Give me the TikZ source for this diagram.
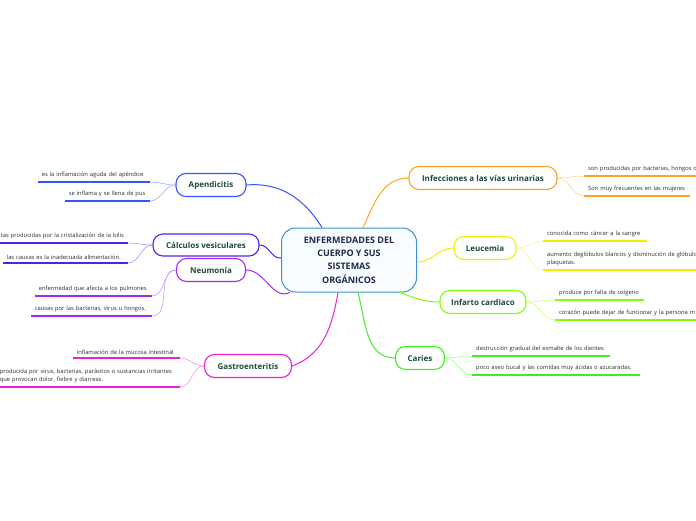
\documentclass[tikz,border=0pt]{standalone}
\usepackage{fontspec}
\setmainfont{Open Sans}
\definecolor{cRoot}{HTML}{3D8FD6}
\definecolor{cApend}{HTML}{3355FF}
\definecolor{cCalc}{HTML}{5022EE}
\definecolor{cNeum}{HTML}{A52AF0}
\definecolor{cGastro}{HTML}{F01ED2}
\definecolor{cInfec}{HTML}{FFA41E}
\definecolor{cLeuc}{HTML}{F0F000}
\definecolor{cInfar}{HTML}{80FF00}
\definecolor{cCaries}{HTML}{3CF01E}
\definecolor{topictext}{HTML}{1B4A3C}
\definecolor{roottext}{HTML}{1B2A4E}
\definecolor{leaftext}{HTML}{2B2B2B}
\tikzset{
  topic/.style={draw=#1, line width=1.1pt, rounded corners=10pt, fill=white,
    minimum height=23pt, inner sep=0pt, font=\fontsize{8}{10}\selectfont\bfseries, text=topictext},
  leaf/.style={inner xsep=4pt, inner ysep=3.5pt, align=left,
    font=\fontsize{5.8}{8.5}\selectfont, text=leaftext},
  link/.style={line width=1pt},
  sublink/.style={line width=.5pt, #1!55}
}
\begin{document}
\begin{tikzpicture}[x=1pt, y=-1pt]
  \useasboundingbox (0,0) rectangle (696,520);

  % centre
  \node[draw=cRoot, line width=1pt, rounded corners=14pt, fill=cRoot!3, minimum width=135pt,
    minimum height=64pt, align=center, text=roottext, font=\fontsize{9}{13.3}\selectfont\bfseries]
    (root) at (349,260) {ENFERMEDADES DEL\\CUERPO Y SUS\\SISTEMAS\\ORGÁNICOS};

  % topics
  \node[topic=cApend, minimum width=70pt] (apend) at (211,185) {Apendicitis};
  \node[topic=cCalc, minimum width=106pt, minimum height=22pt] (calc) at (206,245) {Cálculos vesiculares};
  \node[topic=cNeum, minimum width=69pt] (neum) at (211,270) {Neumonía};
  \node[topic=cGastro, minimum width=87pt] (gastro) at (248,366) {Gastroenteritis};
  \node[topic=cInfec, minimum width=148pt] (infec) at (483,178) {Infecciones a las vías urinarias};
  \node[topic=cLeuc, minimum width=62pt] (leuc) at (485,248) {Leucemia};
  \node[topic=cInfar, minimum width=86pt] (infar) at (483,302) {Infarto cardiaco};
  \node[topic=cCaries, minimum width=49pt] (caries) at (420,358) {Caries};

  % links from the centre
  \draw[link, cApend] (apend.east) to[out=5, in=122] ([xshift=-27pt]root.north);
  \draw[link, cCalc] (calc.east) to[out=0, in=185] ([yshift=2pt]root.west);
  \draw[link, cNeum] (neum.east) to[out=0, in=205] ([xshift=-59pt]root.south);
  \draw[link, cGastro] (gastro.east) to[out=20, in=-100] ([xshift=-11pt]root.south);
  \draw[link, cInfec] ([xshift=14pt]root.north) to[out=65, in=180] (infec.west);
  \draw[link, cLeuc] ([yshift=-2pt]root.east) to[out=0, in=180] (leuc.west);
  \draw[link, cInfar] ([xshift=51pt]root.south) to[out=-20, in=180] (infar.west);
  \draw[link, cCaries] ([xshift=9pt]root.south) to[out=-75, in=180] (caries.west);

  % details, left side
  \node[leaf, text width=104pt, anchor=south east] (apend1) at (150,182) {es la inflamación aguda del apéndice};
  \node[leaf, text width=77pt, anchor=south east] (apend2) at (150,201) {se inflama y se llena de pus};
  \node[leaf, text width=130pt, align=right, anchor=south east] (calc1) at (128,243) {tas producidas por la cristalización de la bilis};
  \node[leaf, text width=117pt, anchor=south east] (calc2) at (128,263) {las causas es la inadecuada alimentación.};
  \node[leaf, text width=109pt, anchor=south east] (neum1) at (152,296) {enfermedad que afecta a los pulmones};
  \node[leaf, text width=113pt, anchor=south east] (neum2) at (152,316) {causas por las bacterias, virus u hongos.};
  \node[leaf, text width=99pt, anchor=south east] (gastro1) at (180,358) {inflamación de la mucosa intestinal};
  \node[leaf, text width=176pt, anchor=south east, font=\fontsize{5.8}{8}\selectfont] (gastro2) at (180,387)
    {producida por virus, bacterias, parásitos o sustancias irritantes\\que provocan dolor, fiebre y diarreas.};

  % details, right side
  \node[leaf, text width=130pt, anchor=south west] (infec1) at (584,176) {son producidas por bacterias, hongos o};
  \node[leaf, text width=98pt, anchor=south west] (infec2) at (584,196) {Son muy frecuentes en las mujeres};
  \node[leaf, text width=96pt, anchor=south west] (leuc1) at (543,241) {conocida como cáncer a la sangre};
  \node[leaf, text width=160pt, anchor=south west] (leuc2) at (543,270)
    {aumento deglóbulos blancos y disminución de glóbulos\\plaquetas.};
  \node[leaf, text width=81pt, anchor=south west] (infar1) at (555,300) {produce por falta de oxígeno};
  \node[leaf, text width=150pt, anchor=south west] (infar2) at (555,320) {corazón puede dejar de funcionar y la persona m};
  \node[leaf, text width=130pt, anchor=south west] (caries1) at (472,356) {destrucción gradual del esmalte de los dientes};
  \node[leaf, text width=160pt, anchor=south west] (caries2) at (472,375) {poco aseo bucal y las comidas muy ácidas o azucaradas.};

  % underlines
  \foreach \n/\c in {apend1/cApend, apend2/cApend, calc1/cCalc, calc2/cCalc, neum1/cNeum, neum2/cNeum,
      gastro1/cGastro, gastro2/cGastro, infec1/cInfec, infec2/cInfec, leuc1/cLeuc, leuc2/cLeuc,
      infar1/cInfar, infar2/cInfar, caries1/cCaries, caries2/cCaries}
    \draw[\c, line width=1.3pt] (\n.south west) -- (\n.south east);

  % small links
  \foreach \m/\n/\c in {apend/apend1/cApend, apend/apend2/cApend, calc/calc1/cCalc, calc/calc2/cCalc,
      neum/neum1/cNeum, neum/neum2/cNeum, gastro/gastro1/cGastro, gastro/gastro2/cGastro}
    \draw[sublink=\c] (\m.west) to[out=180, in=0] (\n.south east);
  \foreach \m/\n/\c in {infec/infec1/cInfec, infec/infec2/cInfec, leuc/leuc1/cLeuc, leuc/leuc2/cLeuc,
      infar/infar1/cInfar, infar/infar2/cInfar, caries/caries1/cCaries, caries/caries2/cCaries}
    \draw[sublink=\c] (\m.east) to[out=0, in=180] (\n.south west);
\end{tikzpicture}
\end{document}
